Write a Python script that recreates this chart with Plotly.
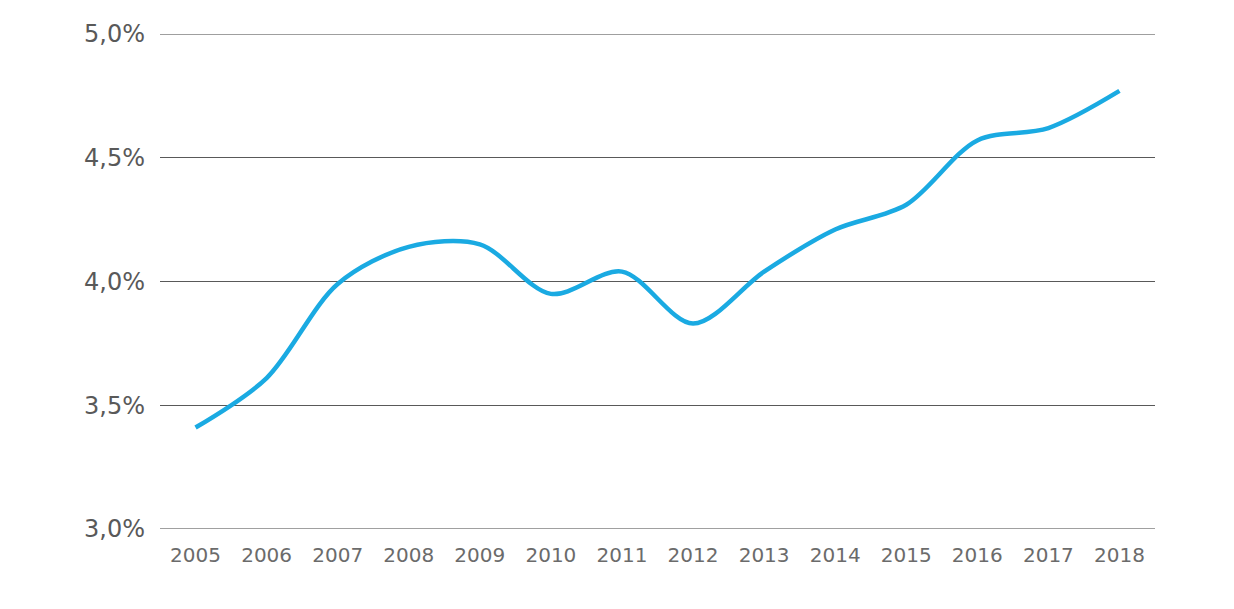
import plotly.graph_objects as go

years = ["2005", "2006", "2007", "2008", "2009", "2010", "2011",
         "2012", "2013", "2014", "2015", "2016", "2017", "2018"]
rate_pct = [3.41, 3.61, 3.99, 4.14, 4.15, 3.95, 4.04,
            3.83, 4.04, 4.21, 4.31, 4.57, 4.62, 4.77]
values = [v / 100 for v in rate_pct]
y_min, y_max = 0.03, 0.05

fig = go.Figure()
fig.add_trace(go.Scatter(
    x=years, y=values, mode="lines",
    line=dict(color="#1AAAE2", width=4.5, shape="spline", smoothing=0.9),
    hoverinfo="skip", showlegend=False,
))

# edge gridlines (plotly hides gridlines lying on the plot edges)
for yv in (y_min, y_max):
    fig.add_shape(type="line", xref="paper", x0=0, x1=1, yref="y", y0=yv, y1=yv,
                  line=dict(color="#404040", width=1), layer="below")

fig.update_layout(
    width=1234, height=609,
    margin=dict(l=152, r=87, t=23, b=88),
    plot_bgcolor="white", paper_bgcolor="white",
    separators=",.",
    font=dict(family="DejaVu Sans", color="#595959"),
    xaxis=dict(
        type="category", range=[-0.5, 13.5], showgrid=False, showline=False,
        zeroline=False, ticks="", tickfont=dict(size=20, color="#6b6b6b"),
        ticklabelstandoff=12,
    ),
    yaxis=dict(
        range=[y_min, y_max], tickvals=[0.03, 0.035, 0.04, 0.045, 0.05],
        tickformat=".1%", showgrid=True, gridcolor="#595959", gridwidth=1,
        zeroline=False, showline=False, ticks="",
        tickfont=dict(size=24, color="#595959"), ticklabelstandoff=14,
    ),
)

fig.write_html("out.html")
